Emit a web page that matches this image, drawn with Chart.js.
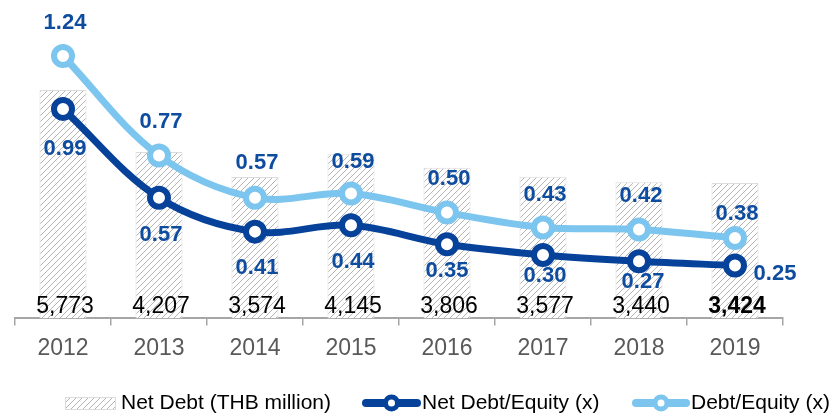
<!DOCTYPE html>
<html>
<head>
<meta charset="utf-8">
<script src="https://cdn.jsdelivr.net/npm/chart.js@4.4.1/dist/chart.umd.min.js"></script>
<style>
  html, body { margin: 0; padding: 0; background: #fff; }
  #wrap { width: 836px; height: 413px; }
</style>
</head>
<body>
<div id="wrap"><canvas id="debtChart"></canvas></div>
<script>
const years = ['2012', '2013', '2014', '2015', '2016', '2017', '2018', '2019'];
const netDebt = [5773, 4207, 3574, 4145, 3806, 3577, 3440, 3424];
const netDebtEquity = [0.99, 0.57, 0.41, 0.44, 0.35, 0.30, 0.27, 0.25];
const debtEquity = [1.24, 0.77, 0.57, 0.59, 0.50, 0.43, 0.42, 0.38];

const FONT = "'Liberation Sans', Arial, sans-serif";
const darkBlue = '#06429a';
const lightBlue = '#7cc5ee';
const labelBlue = '#0d4c9f';

// label nudges (px) so the numbers sit like in the original
const deLabelDy = [-33, -34, -35, -32, -34, -32, -34, -24];
const ndeLabelDy = [40, 37, 36, 37, 27, 21, 21, 8];
const ndeLabelDx = [2, 2, 2, 2, 0, 2, 4, 40];

function hatch() {
    const c = document.createElement('canvas');
    c.width = 6; c.height = 6;
    const g = c.getContext('2d');
    g.fillStyle = '#fff';
    g.fillRect(0, 0, 6, 6);
    g.strokeStyle = '#b4b4b4';
    g.lineWidth = 1;
    g.beginPath();
    g.moveTo(0, 6); g.lineTo(6, 0);
    g.moveTo(-1, 1); g.lineTo(1, -1);
    g.moveTo(5, 7); g.lineTo(7, 5);
    g.stroke();
    return g.createPattern(c, 'repeat');
}
const hatchFill = hatch();

const labelsPlugin = {
    id: 'valueLabels',
    afterDatasetsDraw(chart) {
        const ctx = chart.ctx;
        ctx.save();
        ctx.textAlign = 'center';
        ctx.textBaseline = 'middle';

        chart.getDatasetMeta(0).data.forEach((el, i) => {
            ctx.font = (i === netDebt.length - 1 ? 'bold ' : '') + '23px ' + FONT;
            ctx.fillStyle = '#000';
            ctx.fillText(netDebt[i].toLocaleString('en-US'), el.x + 2, el.base - 12);
        });

        ctx.font = 'bold 22px ' + FONT;
        ctx.fillStyle = labelBlue;
        chart.getDatasetMeta(1).data.forEach((el, i) => {
            ctx.fillText(netDebtEquity[i].toFixed(2), el.x + ndeLabelDx[i], el.y + ndeLabelDy[i]);
        });
        chart.getDatasetMeta(2).data.forEach((el, i) => {
            ctx.fillText(debtEquity[i].toFixed(2), el.x + 2, el.y + deLabelDy[i]);
        });
        ctx.restore();
    },
    afterDraw(chart) {
        const ctx = chart.ctx;
        const y = 403;
        ctx.save();
        // bar swatch
        ctx.fillStyle = hatchFill;
        ctx.fillRect(65, y - 6, 50, 12);
        ctx.strokeStyle = '#dcdcdc';
        ctx.lineWidth = 1;
        ctx.strokeRect(65.5, y - 5.5, 50, 12);
        // line swatches
        [[362, 421, darkBlue], [632, 690, lightBlue]].forEach(([x0, x1, col]) => {
            ctx.strokeStyle = col;
            ctx.lineWidth = 8;
            ctx.lineCap = 'round';
            ctx.beginPath();
            ctx.moveTo(x0 + 4, y); ctx.lineTo(x1 - 4, y);
            ctx.stroke();
            ctx.beginPath();
            ctx.arc((x0 + x1) / 2, y, 6, 0, Math.PI * 2);
            ctx.fillStyle = '#fff';
            ctx.fill();
            ctx.lineWidth = 5;
            ctx.stroke();
        });
        ctx.fillStyle = '#000';
        ctx.font = '21px ' + FONT;
        ctx.textAlign = 'left';
        ctx.textBaseline = 'middle';
        ctx.fillText('Net Debt (THB million)', 121, y);
        ctx.fillText('Net Debt/Equity (x)', 422, y);
        ctx.fillText('Debt/Equity (x)', 691, y);
        ctx.restore();
    }
};

const ctx = document.getElementById('debtChart').getContext('2d');
const debtChart = new Chart(ctx, {
    type: 'bar',
    data: {
        labels: years,
        datasets: [{
            label: 'Net Debt (THB million)',
            data: netDebt,
            yAxisID: 'y',
            backgroundColor: hatchFill,
            borderColor: '#dcdcdc',
            borderWidth: 1,
            categoryPercentage: 1,
            barPercentage: 0.49,
            order: 3
        }, {
            type: 'line',
            label: 'Net Debt/Equity (x)',
            data: netDebtEquity,
            yAxisID: 'y1',
            borderColor: darkBlue,
            borderWidth: 7,
            tension: 0.35,
            pointRadius: 9,
            pointBorderWidth: 6,
            pointBackgroundColor: '#fff',
            pointBorderColor: darkBlue,
            order: 1
        }, {
            type: 'line',
            label: 'Debt/Equity (x)',
            data: debtEquity,
            yAxisID: 'y1',
            borderColor: lightBlue,
            borderWidth: 7,
            tension: 0.35,
            pointRadius: 9,
            pointBorderWidth: 6,
            pointBackgroundColor: '#fff',
            pointBorderColor: lightBlue,
            order: 2
        }]
    },
    options: {
        responsive: true,
        maintainAspectRatio: false,
        animation: false,
        events: [],
        layout: { padding: { left: 12, right: 53, top: 20, bottom: 42 } },
        plugins: {
            legend: { display: false },
            tooltip: { enabled: false }
        },
        scales: {
            x: {
                grid: { display: true, drawOnChartArea: false, color: '#a6a6a6', tickLength: 7, lineWidth: 1.5 },
                border: { color: '#a6a6a6', width: 2 },
                ticks: { color: '#595959', font: { family: FONT, size: 23 }, padding: 9 }
            },
            y: { display: false, min: 0, max: 7540 },
            y1: { display: false, min: 0, max: 1.41 }
        }
    },
    plugins: [labelsPlugin]
});
</script>
</body>
</html>
